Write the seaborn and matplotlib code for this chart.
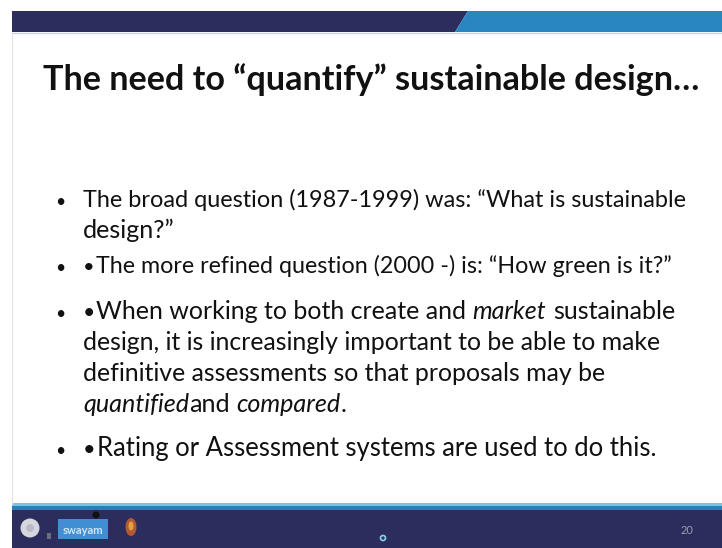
import matplotlib
matplotlib.use("Agg")
import matplotlib.pyplot as plt
from matplotlib.patches import Polygon, Rectangle, Circle, Ellipse
import seaborn as sns

# slide text
title = "The need to \u201cquantify\u201d sustainable design\u2026"
# each line is a list of (text, style) runs; "i" = italic, "n" = normal, "b" = inline bullet
lines = [
    [("The broad question (1987-1999) was: \u201cWhat is sustainable", "n")],
    [("design?\u201d", "n")],
    [("\u2022", "b"), ("The more refined question (2000 -) is: \u201cHow green is it?\u201d", "n")],
    [("\u2022", "b"), ("When working to both create and ", "n"), ("market", "i"), (" sustainable", "n")],
    [("design, it is increasingly important to be able to make", "n")],
    [("definitive assessments so that proposals may be", "n")],
    [("quantified", "i"), ("and ", "n"), ("compared", "i"), (".", "n")],
    [("\u2022", "b"), ("Rating or Assessment systems are used to do this.", "n")],
]
baselines = [207, 238, 273, 319, 350, 381, 412, 456]
# right end of each full line on the slide (None = keep the base size)
line_ends = [688, None, 643, 677, 662, 605, None, 657]
bullet_rows = [0, 2, 3, 7]
page_no = "20"

sns.set_theme(style="white")
plt.rcParams["font.family"] = ["Lato", "DejaVu Sans"]

fig = plt.figure(figsize=(7.22, 5.48), dpi=100)
ax = fig.add_axes([0, 0, 1, 1])
ax.set_xlim(0, 722)
ax.set_ylim(548, 0)
ax.axis("off")
renderer = fig.canvas.get_renderer()

navy = "#2b2d5c"
blue = "#2a86c0"

# top header band
ax.add_patch(Polygon([(12, 11), (468, 11), (455, 32), (12, 32)], closed=True, color=navy, lw=0))
ax.add_patch(Polygon([(468, 11), (722, 11), (722, 32), (455, 32)], closed=True, color=blue, lw=0))
ax.plot([12, 722], [32.5, 32.5], color="#c9d3e6", lw=1)
ax.plot([12, 12], [32, 504], color="#e2e2e2", lw=0.8)

# footer
ax.add_patch(Rectangle((12, 503), 710, 3, color="#7fc0e4", lw=0))
ax.add_patch(Rectangle((12, 506), 710, 4, color="#2a7fb6", lw=0))
ax.add_patch(Rectangle((12, 510), 710, 38, color=navy, lw=0))
ax.add_patch(Circle((30, 528), 9.5, color="#d6d6de", lw=0))
ax.add_patch(Circle((30, 528), 4, color="#b8bac8", lw=0))
ax.add_patch(Rectangle((47, 533), 4, 6, color="#6a6c84", lw=0))
ax.add_patch(Rectangle((58, 519), 50, 20, color="#3f8fd2", lw=0))
ax.text(83, 530, "swayam", color="#cfe6ff", fontsize=8, ha="center", va="center",
        fontweight="bold")
ax.add_patch(Circle((96, 515), 3.5, color="#111111", lw=0))
ax.add_patch(Ellipse((131, 527), 11, 18, color="#b45a32", lw=0))
ax.add_patch(Ellipse((131, 526), 5, 9, color="#e0a040", lw=0))
ax.add_patch(Circle((383, 538), 2.5, fill=False, ec="#8fd3ea", lw=1.2))
ax.text(687, 530, page_no, color="#9a9cb0", fontsize=8, ha="center", va="center")


def width_of(s, size, **kw):
    t = ax.text(0, 0, s, fontsize=size, **kw)
    w = t.get_window_extent(renderer).width
    t.remove()
    return w


# size the fonts so line lengths match the slide
title_size = 24 * 657 / width_of(title, 24, fontweight="bold")
ax.text(371.5, 90, title, fontsize=title_size, fontweight="bold", color="#111111",
        ha="center", va="baseline")


def style_kw(style):
    if style == "i":
        return 1.0, dict(fontstyle="italic")
    if style == "b":
        return 0.85, {}
    return 1.0, {}


def layout(runs, size, y=None):
    # place runs left to right (or only measure them when y is None)
    sp = width_of("a a", size) - width_of("aa", size)
    x = 83
    for s, style in runs:
        lead = len(s) - len(s.lstrip(" "))
        trail = len(s) - len(s.rstrip(" "))
        x += lead * sp
        scale, kw = style_kw(style)
        if y is None:
            w = width_of(s.strip(" "), size * scale, **kw)
        else:
            t = ax.text(x, y, s.strip(" "), fontsize=size * scale, color="#111111",
                        va="baseline", **kw)
            w = t.get_window_extent(renderer).width
        x += w + trail * sp + (1 if style == "b" else 0)
    return x - 83


base_size = 18 * (677 - 83) / layout(lines[3], 18)

for row, (runs, y, end) in enumerate(zip(lines, baselines, line_ends)):
    size = base_size
    if end is not None:
        size = base_size * (end - 83) / layout(runs, base_size)
        size = min(max(size, base_size * 0.93), base_size * 1.02)
    layout(runs, size, y)
    if row in bullet_rows:
        ax.text(60, y, "\u2022", fontsize=base_size * 0.7, color="#111111",
                ha="center", va="baseline")

fig.savefig("out.png", dpi=100, facecolor="white")
